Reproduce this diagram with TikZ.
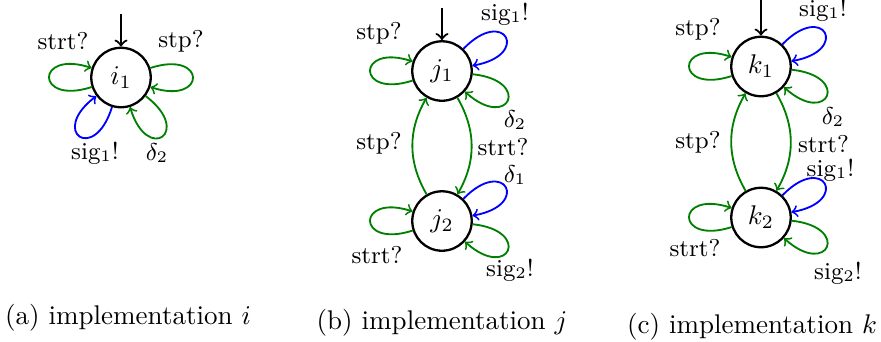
\documentclass[tikz,border=0pt]{standalone}
\usetikzlibrary{arrows}
\definecolor{grn}{rgb}{0,0.5,0}
\begin{document}
\begin{tikzpicture}[x=0.37pt,y=-0.37pt,
  state/.style={circle,draw,line width=0.85pt,minimum size=22pt,inner sep=0pt,font=\fontsize{10}{12}\selectfont},
  lbl/.style={font=\fontsize{9}{11}\selectfont,inner sep=0pt},
  captxt/.style={font=\fontsize{10}{12}\selectfont,inner sep=0pt},
  gr/.style={draw=grn,line width=0.68pt,->},
  bl/.style={draw=blue,line width=0.68pt,->},
  lp/.style={looseness=8,min distance=6.6mm},
  init/.style={line width=0.8pt,->}]
\useasboundingbox (0,0) rectangle (881,341);

% ---------- (a) ----------
\node[state] (i1) at (121,77.5) {$i_1$};
\coordinate (ia) at (121,14);
\draw[init] (ia) -- (i1);
\draw[gr] (i1) to[out=198,in=162,lp] (i1);
\draw[gr] (i1) to[out=18,in=-18,lp] (i1);
\draw[bl] (i1) to[out=253,in=217,lp] (i1);
\draw[gr] (i1) to[out=323,in=287,lp] (i1);
\node[lbl] (la1) at (63,41) {strt?};
\node[lbl] (la2) at (181,41) {stp?};
\node[lbl] (la3) at (95,153) {sig$_1$!};
\node[lbl] (la4) at (157,153) {$\delta_2$};
\node[captxt] (ca) at (128,318) {(a) implementation $i$};

% ---------- (b) ----------
\node[state] (j1) at (442,71) {$j_1$};
\node[state] (j2) at (442,221) {$j_2$};
\coordinate (ja) at (442,8);
\draw[init] (ja) -- (j1);
\draw[gr] (j1) to[out=198,in=162,lp] (j1);
\draw[bl] (j1) to[out=46,in=10,lp] (j1);
\draw[gr] (j1) to[out=-6,in=-42,lp] (j1);
\draw[gr] (j2) to[out=198,in=162,lp] (j2);
\draw[bl] (j2) to[out=46,in=10,lp] (j2);
\draw[gr] (j2) to[out=-6,in=-42,lp] (j2);
\draw[gr] (j1) to[bend left=30] (j2);
\draw[gr] (j2) to[bend left=30] (j1);
\node[lbl] (lb1) at (379,33) {stp?};
\node[lbl] (lb2) at (505,14) {sig$_1$!};
\node[lbl] (lb3) at (515,120) {$\delta_2$};
\node[lbl] (lb4) at (379,143) {stp?};
\node[lbl] (lb5) at (503,147) {strt?};
\node[lbl] (lb6) at (515,175) {$\delta_1$};
\node[lbl] (lb7) at (377,255) {strt?};
\node[lbl] (lb8) at (510,270) {sig$_2$!};
\node[captxt] (cb) at (442,323) {(b) implementation $j$};

% ---------- (c) ----------
\node[state] (k1) at (761,66.5) {$k_1$};
\node[state] (k2) at (761,217.5) {$k_2$};
\coordinate (ka) at (761,0);
\draw[init] (ka) -- (k1);
\draw[gr] (k1) to[out=198,in=162,lp] (k1);
\draw[bl] (k1) to[out=46,in=10,lp] (k1);
\draw[gr] (k1) to[out=-6,in=-42,lp] (k1);
\draw[gr] (k2) to[out=198,in=162,lp] (k2);
\draw[bl] (k2) to[out=46,in=10,lp] (k2);
\draw[gr] (k2) to[out=-6,in=-42,lp] (k2);
\draw[gr] (k1) to[bend left=30] (k2);
\draw[gr] (k2) to[bend left=30] (k1);
\node[lbl] (lc1) at (698,29) {stp?};
\node[lbl] (lc2) at (823,10) {sig$_1$!};
\node[lbl] (lc3) at (833,117) {$\delta_2$};
\node[lbl] (lc4) at (698,142) {stp?};
\node[lbl] (lc5) at (823.5,144.5) {strt?};
\node[lbl] (lc6) at (830.5,170) {sig$_1$!};
\node[lbl] (lc7) at (695,248) {strt?};
\node[lbl] (lc8) at (838,273) {sig$_2$!};
\node[captxt] (cc) at (752,327) {(c) implementation $k$};
\end{tikzpicture}
\end{document}
